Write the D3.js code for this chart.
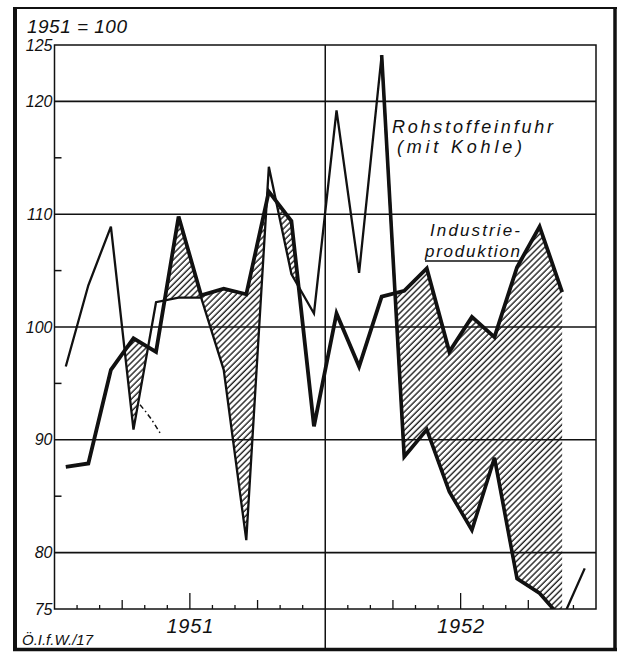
<!DOCTYPE html>
<html>
<head>
<meta charset="utf-8">
<script src="https://cdn.jsdelivr.net/npm/d3@7"></script>
<style>
  body { margin: 0; background: #fff; }
  svg text { font-family: "Liberation Sans", Arial, sans-serif; font-style: italic; fill: #111; }
</style>
</head>
<body>
<svg id="chart" width="624" height="652"></svg>
<script>
// monthly index 1951 = 100, Jan 1951 .. Dec 1952
const rohstoff = [96.5, 103.7, 108.9, 90.9, 102.2, 102.6, 102.6, 96.2, 81.1, 114.2, 104.7, 101.2,
                  119.2, 104.8, 124.1, 88.5, 90.9, 85.4, 82.0, 88.4, 77.7, 76.4, 74.1, 78.6];
const industrie = [87.6, 87.9, 96.2, 99.0, 97.8, 109.8, 102.8, 103.4, 102.9, 112.0, 109.4, 91.2,
                   101.2, 96.5, 102.7, 103.2, 105.2, 97.8, 100.9, 99.1, 105.3, 108.9, 103.1];
// small dash-dot guide below the March 1951 dip (month position, value)
const guideMonths = [3.79, 4.23, 4.68];
const guideValues = [93.1, 92.0, 90.6];

const years = ["1951", "1952"];
const yLabels = [75, 80, 90, 100, 110, 120, 125];
const gridValues = [80, 90, 100, 110, 120];
const minorValues = [85, 95, 105, 115];

drawChart();

function drawChart() {
  const svg = d3.select('#chart');

  const x = d3.scaleLinear().domain([0, 24]).range([54.5, 596]);
  const y = d3.scaleLinear().domain([75, 125]).range([609, 45]);
  const px = i => x(i + 0.5);

  const defs = svg.append('defs');

  // hatching "////"
  defs.append('pattern')
    .attr('id', 'hatch')
    .attr('patternUnits', 'userSpaceOnUse')
    .attr('width', 4.3)
    .attr('height', 4.3)
    .attr('patternTransform', 'rotate(45)')
    .append('line')
    .attr('x1', 1).attr('y1', 0)
    .attr('x2', 1).attr('y2', 4.3)
    .attr('stroke', '#111')
    .attr('stroke-width', 1.3);

  defs.append('clipPath')
    .attr('id', 'plot-clip')
    .append('rect')
    .attr('x', x(0)).attr('y', y(125))
    .attr('width', x(24) - x(0)).attr('height', y(75) - y(125));

  // region above the import line -> hatch only where production is higher
  const aboveRohstoff = d3.area()
    .x((d, i) => px(i))
    .y0(y(130))
    .y1(d => y(d));
  defs.append('clipPath')
    .attr('id', 'above-clip')
    .append('path')
    .attr('d', aboveRohstoff(rohstoff));

  // outer frame
  svg.append('line').attr('x1', 13).attr('x2', 617).attr('y1', 8).attr('y2', 8)
    .attr('stroke', '#111').attr('stroke-width', 2);
  svg.append('line').attr('x1', 15).attr('x2', 15).attr('y1', 7).attr('y2', 650)
    .attr('stroke', '#111').attr('stroke-width', 4);
  svg.append('line').attr('x1', 615).attr('x2', 615).attr('y1', 7).attr('y2', 650)
    .attr('stroke', '#111').attr('stroke-width', 3.5);
  svg.append('line').attr('x1', 13).attr('x2', 617).attr('y1', 649.5).attr('y2', 649.5)
    .attr('stroke', '#111').attr('stroke-width', 3.5);

  // plot box + grid
  svg.append('rect')
    .attr('x', x(0)).attr('y', y(125))
    .attr('width', x(24) - x(0)).attr('height', y(75) - y(125))
    .attr('fill', 'none').attr('stroke', '#111').attr('stroke-width', 1.5);

  svg.selectAll('.grid')
    .data(gridValues)
    .enter().append('line')
    .attr('class', 'grid')
    .attr('x1', x(0)).attr('x2', x(24))
    .attr('y1', d => y(d)).attr('y2', d => y(d))
    .attr('stroke', '#111').attr('stroke-width', 1.6);

  svg.selectAll('.minor')
    .data(minorValues)
    .enter().append('line')
    .attr('class', 'minor')
    .attr('x1', x(0)).attr('x2', x(0) + 7)
    .attr('y1', d => y(d)).attr('y2', d => y(d))
    .attr('stroke', '#111').attr('stroke-width', 1.5);

  // month ticks on the bottom axis
  svg.selectAll('.mtick')
    .data(d3.range(1, 24).filter(k => k !== 12))
    .enter().append('line')
    .attr('class', 'mtick')
    .attr('x1', d => x(d)).attr('x2', d => x(d))
    .attr('y1', y(75))
    .attr('y2', d => y(75) - (d % 6 === 0 ? 16 : d % 3 === 0 ? 9 : 4))
    .attr('stroke', '#111').attr('stroke-width', 1.3);

  // year divider
  svg.append('line')
    .attr('x1', x(12)).attr('x2', x(12))
    .attr('y1', y(125)).attr('y2', 650)
    .attr('stroke', '#111').attr('stroke-width', 1.5);

  // y labels
  const yAxis = d3.axisLeft(y).tickValues(yLabels).tickSize(0).tickPadding(2);
  const yg = svg.append('g')
    .attr('transform', `translate(${x(0)},0)`)
    .call(yAxis);
  yg.select('.domain').remove();
  yg.selectAll('text')
    .attr('font-size', 16)
    .attr('font-family', null)
    .attr('fill', '#111');

  // year labels
  svg.selectAll('.year')
    .data(years)
    .enter().append('text')
    .attr('class', 'year')
    .attr('x', (d, i) => x(6 + 12 * i))
    .attr('y', 633)
    .attr('text-anchor', 'middle')
    .attr('font-size', 20)
    .attr('textLength', 47)
    .attr('lengthAdjust', 'spacing')
    .text(d => d);

  // hatched area: between production (above) and imports (below)
  const toBottom = d3.area()
    .x((d, i) => px(i))
    .y0(y(70))
    .y1(d => y(d));
  svg.append('g')
    .attr('clip-path', 'url(#plot-clip)')
    .append('path')
    .attr('d', toBottom(industrie))
    .attr('clip-path', 'url(#above-clip)')
    .attr('fill', 'url(#hatch)');

  const line = d3.line().x((d, i) => px(i)).y(d => y(d));
  const lines = svg.append('g').attr('clip-path', 'url(#plot-clip)');

  lines.append('path')
    .datum(rohstoff)
    .attr('d', line)
    .attr('fill', 'none')
    .attr('stroke', '#111')
    .attr('stroke-width', 2.3)
    .attr('stroke-linejoin', 'miter');

  // heavier edge where it bounds the 1952 hatching
  const heavy = d3.line().x(d => px(d)).y(d => y(rohstoff[d]));
  lines.append('path')
    .datum(d3.range(14, 23))
    .attr('d', heavy)
    .attr('fill', 'none')
    .attr('stroke', '#111')
    .attr('stroke-width', 3.6)
    .attr('stroke-linejoin', 'miter');

  lines.append('path')
    .datum(industrie)
    .attr('d', line)
    .attr('fill', 'none')
    .attr('stroke', '#111')
    .attr('stroke-width', 3.8)
    .attr('stroke-linejoin', 'miter');

  const guide = d3.line().curve(d3.curveNatural)
    .x(d => x(guideMonths[d])).y(d => y(guideValues[d]));
  lines.append('path')
    .datum(d3.range(guideMonths.length))
    .attr('d', guide)
    .attr('fill', 'none')
    .attr('stroke', '#111')
    .attr('stroke-width', 1.5)
    .attr('stroke-dasharray', '5,3,1.5,3');

  // texts
  svg.append('text').attr('x', 27).attr('y', 33)
    .attr('font-size', 19).attr('textLength', 100).attr('lengthAdjust', 'spacing')
    .text('1951 = 100');

  svg.append('text').attr('x', 392).attr('y', 133)
    .attr('font-size', 18).attr('textLength', 161).attr('lengthAdjust', 'spacing')
    .text('Rohstoffeinfuhr');
  svg.append('text').attr('x', 397).attr('y', 153)
    .attr('font-size', 18).attr('textLength', 125).attr('lengthAdjust', 'spacing')
    .text('(mit Kohle)');

  svg.append('text').attr('x', 430).attr('y', 236)
    .attr('font-size', 17).attr('textLength', 90).attr('lengthAdjust', 'spacing')
    .text('Industrie-');
  svg.append('text').attr('x', 425).attr('y', 257)
    .attr('font-size', 17).attr('textLength', 95).attr('lengthAdjust', 'spacing')
    .text('produktion');

  // underline pointing to the production line
  const tip = 20.6;
  const tipVal = industrie[20] + (industrie[21] - industrie[20]) * (tip - 20);
  svg.append('path')
    .attr('d', d3.line()([[425, 261], [520, 261], [px(tip), y(tipVal)]]))
    .attr('fill', 'none')
    .attr('stroke', '#111')
    .attr('stroke-width', 1.5);

  svg.append('text').attr('x', 22).attr('y', 645)
    .attr('font-size', 15).attr('textLength', 71).attr('lengthAdjust', 'spacing')
    .text('Ö.I.f.W./17');
}
</script>
</body>
</html>
